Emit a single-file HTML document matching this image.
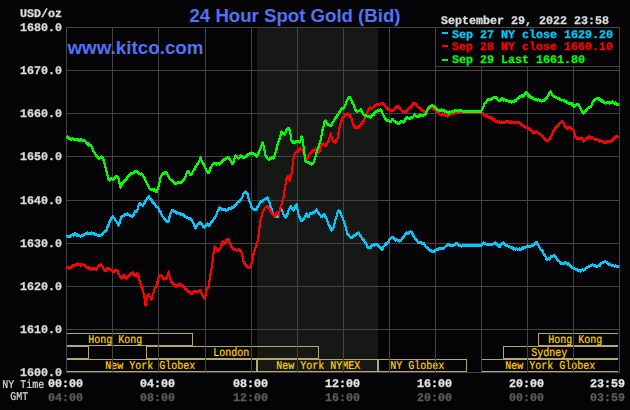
<!DOCTYPE html>
<html><head><meta charset="utf-8"><title>24 Hour Spot Gold (Bid)</title>
<style>
html,body{margin:0;padding:0;background:#040406;}
body{width:630px;height:410px;overflow:hidden;}
svg{display:block;}
.mb{font-family:"Liberation Mono",monospace;font-weight:bold;font-size:11.67px;}
.ms{font-family:"Liberation Mono",monospace;font-weight:normal;font-size:10px;}
.sb{font-family:"Liberation Sans",sans-serif;font-weight:bold;}
</style></head><body>
<svg width="630" height="410" viewBox="0 0 630 410">
<rect x="0" y="0" width="630" height="410" fill="#040406"/>
<rect x="257" y="27" width="121" height="345" fill="#161816"/>
<g fill="#b3aa6a" shape-rendering="crispEdges">
<rect x="67" y="333" width="126" height="1"/><rect x="67" y="345" width="126" height="1"/><rect x="192" y="333" width="1" height="13"/>
<rect x="67" y="346" width="22" height="1"/><rect x="67" y="358" width="22" height="1"/><rect x="88" y="346" width="1" height="13"/>
<rect x="146" y="346" width="173" height="1"/><rect x="146" y="358" width="173" height="1"/><rect x="146" y="346" width="1" height="13"/><rect x="318" y="346" width="1" height="13"/>
<rect x="67" y="359" width="190" height="1"/><rect x="67" y="371" width="190" height="1"/><rect x="256" y="359" width="1" height="13"/>
<rect x="257" y="359" width="121" height="1"/><rect x="257" y="371" width="121" height="1"/><rect x="257" y="359" width="1" height="13"/><rect x="377" y="359" width="1" height="13"/>
<rect x="378" y="359" width="89" height="1"/><rect x="378" y="371" width="89" height="1"/><rect x="378" y="359" width="1" height="13"/><rect x="466" y="359" width="1" height="13"/>
<rect x="481" y="359" width="137" height="1"/><rect x="481" y="371" width="137" height="1"/><rect x="481" y="359" width="1" height="13"/>
<rect x="503" y="346" width="115" height="1"/><rect x="503" y="358" width="115" height="1"/><rect x="503" y="346" width="1" height="13"/>
<rect x="538" y="333" width="80" height="1"/><rect x="538" y="345" width="80" height="1"/><rect x="538" y="333" width="1" height="13"/>
</g>
<g opacity="0.999"><text class="ms" transform="translate(88.25,342.9) scale(1,1.1841) skewX(0.1)" x="0" y="0" fill="#ffd200" stroke="#ffd200" stroke-width="0.2" textLength="54" lengthAdjust="spacingAndGlyphs" xml:space="preserve">Hong Kong</text><text class="ms" transform="translate(213.25,355.9) scale(1,1.1841) skewX(0.1)" x="0" y="0" fill="#ffd200" stroke="#ffd200" stroke-width="0.2" textLength="36" lengthAdjust="spacingAndGlyphs" xml:space="preserve">London</text><text class="ms" transform="translate(105.25,368.9) scale(1,1.1841) skewX(0.1)" x="0" y="0" fill="#ffd200" stroke="#ffd200" stroke-width="0.2" textLength="90" lengthAdjust="spacingAndGlyphs" xml:space="preserve">New York Globex</text><text class="ms" transform="translate(276.25,368.9) scale(1,1.1841) skewX(0.1)" x="0" y="0" fill="#ffd200" stroke="#ffd200" stroke-width="0.2" textLength="84" lengthAdjust="spacingAndGlyphs" xml:space="preserve">New York NYMEX</text><text class="ms" transform="translate(390.25,368.9) scale(1,1.1841) skewX(0.1)" x="0" y="0" fill="#ffd200" stroke="#ffd200" stroke-width="0.2" textLength="54" lengthAdjust="spacingAndGlyphs" xml:space="preserve">NY Globex</text><text class="ms" transform="translate(505.25,368.9) scale(1,1.1841) skewX(0.1)" x="0" y="0" fill="#ffd200" stroke="#ffd200" stroke-width="0.2" textLength="90" lengthAdjust="spacingAndGlyphs" xml:space="preserve">New York Globex</text><text class="ms" transform="translate(531.25,355.9) scale(1,1.1841) skewX(0.1)" x="0" y="0" fill="#ffd200" stroke="#ffd200" stroke-width="0.2" textLength="36" lengthAdjust="spacingAndGlyphs" xml:space="preserve">Sydney</text><text class="ms" transform="translate(548.25,342.9) scale(1,1.1841) skewX(0.1)" x="0" y="0" fill="#ffd200" stroke="#ffd200" stroke-width="0.2" textLength="54" lengthAdjust="spacingAndGlyphs" xml:space="preserve">Hong Kong</text></g>
<g fill="#444444" shape-rendering="crispEdges">
<rect x="66" y="27" width="1" height="346"/>
<rect x="112" y="27" width="1" height="346"/>
<rect x="158" y="27" width="1" height="346"/>
<rect x="205" y="27" width="1" height="346"/>
<rect x="251" y="27" width="1" height="346"/>
<rect x="297" y="27" width="1" height="346"/>
<rect x="343" y="27" width="1" height="346"/>
<rect x="389" y="27" width="1" height="346"/>
<rect x="435" y="27" width="1" height="346"/>
<rect x="481" y="27" width="1" height="346"/>
<rect x="527" y="27" width="1" height="346"/>
<rect x="573" y="27" width="1" height="346"/>
<rect x="619" y="27" width="1" height="346"/>
<rect x="66" y="27" width="554" height="1"/>
<rect x="66" y="70" width="554" height="1"/>
<rect x="66" y="113" width="554" height="1"/>
<rect x="66" y="156" width="554" height="1"/>
<rect x="66" y="200" width="554" height="1"/>
<rect x="66" y="243" width="554" height="1"/>
<rect x="66" y="286" width="554" height="1"/>
<rect x="66" y="329" width="554" height="1"/>
<rect x="66" y="372" width="554" height="1"/>
</g>
<g fill="none" stroke="#00c8ff" stroke-width="2" stroke-linejoin="round" stroke-linecap="butt" shape-rendering="crispEdges"><path d="M66.6 235.6 L67.6 236.5 L68.6 236.7 L69.6 236.9 L70.6 236.4 L71.6 235.2 L72.6 234.6 L73.6 235.2 L74.6 233.9 L75.6 233.8 L76.6 235.2 L77.6 234.8 L78.6 235.8 L79.6 235.7 L80.6 236.4 L81.6 235.5 L82.6 235.5 L83.6 235.2 L84.6 234.2 L85.6 234.0 L86.6 233.4 L87.6 232.6 L88.6 233.9 L89.6 234.0 L90.6 233.5 L91.6 232.8 L92.6 233.6 L93.6 233.2 L94.6 234.1 L95.6 234.7 L96.6 234.9 L97.6 235.5 L98.6 235.0 L99.6 235.9 L100.6 235.0 L101.6 234.8 L102.6 233.9 L103.6 232.1 L104.6 231.6 L105.6 231.2 L106.6 229.9 L107.6 226.8 L108.6 224.7 L109.6 221.7 L110.6 219.9 L111.6 217.8 L112.6 216.4 L113.6 217.7 L114.6 218.7 L115.6 220.5 L116.6 221.7 L117.6 223.7 L118.6 225.5 L119.6 222.7 L120.6 219.2 L121.6 216.9 L122.6 216.2 L123.6 215.5 L124.6 215.0 L125.6 214.2 L126.6 214.4 L127.6 213.8 L128.6 214.8 L129.6 215.1 L130.6 215.7 L131.6 216.4 L132.6 216.0 L133.6 214.7 L134.6 211.9 L135.6 211.4 L136.6 211.6 L137.6 209.1 L138.6 205.3 L139.6 203.7 L140.6 204.0 L141.6 204.6 L142.6 205.7 L143.6 204.1 L144.6 203.4 L145.6 200.6 L146.6 199.5 L147.6 198.0 L148.6 196.3 L149.6 198.5 L150.6 199.0 L151.6 200.3 L152.6 202.5 L153.6 202.9 L154.6 204.2 L155.6 205.5 L156.6 206.9 L157.6 207.4 L158.6 208.5 L159.6 211.2 L160.6 212.2 L161.6 214.9 L162.6 216.6 L163.6 217.5 L164.6 219.2 L165.6 220.4 L166.6 221.7 L167.6 221.8 L168.6 221.1 L169.6 216.7 L170.6 213.3 L171.6 211.2 L172.6 210.1 L173.6 211.2 L174.6 211.3 L175.6 211.9 L176.6 213.2 L177.6 212.9 L178.6 213.3 L179.6 213.1 L180.6 214.1 L181.6 214.7 L182.6 214.1 L183.6 215.2 L184.6 216.2 L185.6 216.5 L186.6 217.8 L187.6 217.7 L188.6 218.2 L189.6 218.3 L190.6 219.5 L191.6 220.3 L192.6 221.4 L193.6 223.6 L194.6 226.2 L195.6 228.2 L196.6 225.8 L197.6 224.5 L198.6 223.7 L199.6 222.7 L200.6 222.5 L201.6 224.1 L202.6 225.8 L203.6 226.9 L204.6 227.3 L205.6 225.9 L206.6 225.0 L207.6 223.8 L208.6 225.4 L209.6 225.2 L210.6 223.4 L211.6 222.0 L212.6 221.5 L213.6 219.4 L214.6 218.1 L215.6 216.5 L216.6 214.6 L217.6 211.4 L218.6 209.8 L219.6 207.8 L220.6 208.9 L221.6 208.9 L222.6 209.9 L223.6 209.2 L224.6 209.5 L225.6 210.1 L226.6 210.5 L227.6 209.7 L228.6 209.0 L229.6 208.4 L230.6 208.6 L231.6 207.6 L232.6 207.9 L233.6 207.3 L234.6 205.8 L235.6 204.8 L236.6 204.1 L237.6 202.4 L238.6 201.8 L239.6 200.7 L240.6 200.0 L241.6 198.5 L242.6 196.6 L243.6 193.3 L244.6 192.6 L245.6 191.9 L246.6 193.1 L247.6 194.3 L248.6 198.8 L249.6 201.5 L250.6 203.6 L251.6 207.3 L252.6 208.6 L253.6 209.6 L254.6 209.6 L255.6 209.9 L256.6 208.8 L257.6 206.6 L258.6 205.3 L259.6 203.3 L260.6 202.0 L261.6 201.5 L262.6 200.8 L263.6 200.3 L264.6 199.4 L265.6 198.4 L266.6 198.6 L267.6 197.7 L268.6 200.9 L269.6 202.4 L270.6 206.6 L271.6 209.3 L272.6 212.6 L273.6 215.6 L274.6 216.4 L275.6 216.8 L276.6 216.1 L277.6 216.7 L278.6 214.8 L279.6 211.5 L280.6 209.4 L281.6 209.8 L282.6 211.4 L283.6 214.6 L284.6 216.1 L285.6 217.2 L286.6 215.9 L287.6 213.7 L288.6 210.5 L289.6 208.4 L290.6 206.1 L291.6 207.4 L292.6 209.2 L293.6 210.2 L294.6 207.8 L295.6 205.7 L296.6 204.8 L297.6 210.4 L298.6 214.5 L299.6 217.3 L300.6 219.4 L301.6 221.0 L302.6 219.6 L303.6 218.7 L304.6 217.3 L305.6 215.9 L306.6 213.9 L307.6 215.6 L308.6 217.0 L309.6 214.3 L310.6 213.0 L311.6 213.4 L312.6 213.0 L313.6 212.1 L314.6 212.4 L315.6 211.1 L316.6 209.4 L317.6 211.6 L318.6 213.1 L319.6 214.5 L320.6 215.8 L321.6 217.0 L322.6 215.9 L323.6 214.6 L324.6 215.1 L325.6 217.2 L326.6 218.9 L327.6 221.8 L328.6 224.4 L329.6 226.2 L330.6 228.1 L331.6 230.5 L332.6 228.8 L333.6 227.1 L334.6 223.4 L335.6 218.8 L336.6 215.9 L337.6 212.2 L338.6 210.8 L339.6 211.3 L340.6 213.3 L341.6 215.8 L342.6 217.9 L343.6 221.1 L344.6 223.9 L345.6 226.6 L346.6 230.6 L347.6 234.3 L348.6 234.9 L349.6 236.9 L350.6 237.3 L351.6 237.5 L352.6 237.2 L353.6 235.8 L354.6 235.9 L355.6 235.1 L356.6 233.7 L357.6 233.4 L358.6 232.7 L359.6 234.8 L360.6 235.8 L361.6 237.5 L362.6 238.9 L363.6 240.2 L364.6 241.8 L365.6 243.1 L366.6 244.7 L367.6 248.0 L368.6 247.9 L369.6 247.4 L370.6 247.7 L371.6 245.9 L372.6 245.2 L373.6 244.4 L374.6 245.3 L375.6 244.1 L376.6 244.1 L377.6 245.9 L378.6 245.6 L379.6 247.5 L380.6 248.3 L381.6 249.6 L382.6 249.0 L383.6 246.5 L384.6 245.6 L385.6 243.9 L386.6 244.2 L387.6 242.8 L388.6 241.7 L389.6 239.4 L390.6 238.6 L391.6 237.2 L392.6 237.0 L393.6 238.4 L394.6 239.4 L395.6 240.2 L396.6 239.9 L397.6 240.1 L398.6 240.4 L399.6 241.1 L400.6 240.8 L401.6 239.3 L402.6 238.2 L403.6 236.8 L404.6 235.1 L405.6 233.5 L406.6 232.8 L407.6 233.1 L408.6 233.3 L409.6 232.0 L410.6 231.9 L411.6 232.3 L412.6 234.3 L413.6 236.2 L414.6 237.9 L415.6 239.1 L416.6 240.3 L417.6 241.7 L418.6 242.8 L419.6 242.0 L420.6 242.3 L421.6 243.2 L422.6 243.1 L423.6 243.3 L424.6 244.8 L425.6 246.7 L426.6 247.2 L427.6 248.3 L428.6 249.2 L429.6 250.4 L430.6 250.6 L431.6 251.0 L432.6 251.6 L433.6 251.6 L434.6 250.3 L435.6 250.4 L436.6 249.4 L437.6 249.5 L438.6 248.9 L439.6 248.4 L440.6 248.3 L441.6 248.0 L442.6 248.6 L443.6 248.4 L444.6 247.4 L445.6 246.3 L446.6 245.3 L447.6 245.1 L448.6 244.1 L449.6 245.6 L450.6 245.2 L451.6 245.4 L452.6 245.1 L453.6 245.5 L454.6 244.6 L455.6 243.4 L456.6 243.4 L457.6 244.4 L458.6 245.2 L459.6 245.0 L460.6 245.6 L461.6 246.2 L462.6 245.6 L463.6 245.6 L464.6 245.6 L465.6 245.6 L466.6 245.6 L467.6 245.6 L468.6 245.6 L469.6 245.6 L470.6 245.6 L471.6 245.6 L472.6 245.6 L473.6 245.6 L474.6 245.6 L475.6 245.6 L476.6 245.6 L477.6 245.6 L478.6 245.6 L479.6 245.6 L480.6 245.6 L481.6 245.0 L482.6 243.6 L483.6 242.6 L484.6 243.6 L485.6 243.8 L486.6 244.5 L487.6 244.6 L488.6 244.0 L489.6 244.2 L490.6 244.6 L491.6 244.2 L492.6 244.3 L493.6 243.9 L494.6 243.4 L495.6 242.9 L496.6 244.7 L497.6 244.9 L498.6 246.1 L499.6 247.0 L500.6 244.8 L501.6 243.4 L502.6 244.0 L503.6 242.7 L504.6 243.7 L505.6 244.9 L506.6 245.9 L507.6 245.5 L508.6 246.4 L509.6 247.0 L510.6 247.4 L511.6 247.4 L512.6 248.3 L513.6 249.2 L514.6 248.7 L515.6 249.3 L516.6 248.9 L517.6 249.1 L518.6 249.6 L519.6 248.9 L520.6 249.6 L521.6 249.2 L522.6 247.5 L523.6 248.2 L524.6 247.0 L525.6 247.2 L526.6 246.9 L527.6 245.9 L528.6 246.2 L529.6 246.2 L530.6 246.4 L531.6 245.7 L532.6 245.8 L533.6 245.0 L534.6 243.6 L535.6 242.5 L536.6 242.2 L537.6 244.1 L538.6 245.5 L539.6 247.8 L540.6 249.5 L541.6 250.5 L542.6 251.1 L543.6 253.4 L544.6 255.4 L545.6 256.6 L546.6 259.3 L547.6 259.5 L548.6 258.6 L549.6 259.6 L550.6 257.2 L551.6 256.3 L552.6 256.2 L553.6 255.8 L554.6 255.6 L555.6 257.0 L556.6 259.0 L557.6 260.2 L558.6 260.8 L559.6 261.5 L560.6 263.1 L561.6 263.8 L562.6 263.9 L563.6 263.6 L564.6 262.9 L565.6 262.9 L566.6 263.2 L567.6 264.1 L568.6 263.6 L569.6 265.2 L570.6 265.8 L571.6 267.5 L572.6 267.7 L573.6 268.4 L574.6 268.9 L575.6 269.3 L576.6 269.7 L577.6 269.6 L578.6 270.9 L579.6 270.5 L580.6 271.2 L581.6 270.3 L582.6 269.7 L583.6 270.1 L584.6 269.6 L585.6 268.3 L586.6 267.6 L587.6 267.1 L588.6 266.7 L589.6 266.2 L590.6 265.8 L591.6 265.3 L592.6 264.7 L593.6 265.4 L594.6 265.4 L595.6 266.2 L596.6 266.4 L597.6 266.1 L598.6 265.8 L599.6 265.7 L600.6 263.7 L601.6 263.5 L602.6 262.5 L603.6 262.4 L604.6 261.3 L605.6 261.8 L606.6 262.5 L607.6 263.2 L608.6 264.3 L609.6 264.6 L610.6 264.5 L611.6 265.5 L612.6 265.3 L613.6 265.7 L614.6 266.3 L615.6 265.6 L616.6 266.8 L617.6 266.7 L618.6 266.6" transform="translate(0,-0.45)"/><path d="M66.6 235.6 L67.6 236.5 L68.6 236.7 L69.6 236.9 L70.6 236.4 L71.6 235.2 L72.6 234.6 L73.6 235.2 L74.6 233.9 L75.6 233.8 L76.6 235.2 L77.6 234.8 L78.6 235.8 L79.6 235.7 L80.6 236.4 L81.6 235.5 L82.6 235.5 L83.6 235.2 L84.6 234.2 L85.6 234.0 L86.6 233.4 L87.6 232.6 L88.6 233.9 L89.6 234.0 L90.6 233.5 L91.6 232.8 L92.6 233.6 L93.6 233.2 L94.6 234.1 L95.6 234.7 L96.6 234.9 L97.6 235.5 L98.6 235.0 L99.6 235.9 L100.6 235.0 L101.6 234.8 L102.6 233.9 L103.6 232.1 L104.6 231.6 L105.6 231.2 L106.6 229.9 L107.6 226.8 L108.6 224.7 L109.6 221.7 L110.6 219.9 L111.6 217.8 L112.6 216.4 L113.6 217.7 L114.6 218.7 L115.6 220.5 L116.6 221.7 L117.6 223.7 L118.6 225.5 L119.6 222.7 L120.6 219.2 L121.6 216.9 L122.6 216.2 L123.6 215.5 L124.6 215.0 L125.6 214.2 L126.6 214.4 L127.6 213.8 L128.6 214.8 L129.6 215.1 L130.6 215.7 L131.6 216.4 L132.6 216.0 L133.6 214.7 L134.6 211.9 L135.6 211.4 L136.6 211.6 L137.6 209.1 L138.6 205.3 L139.6 203.7 L140.6 204.0 L141.6 204.6 L142.6 205.7 L143.6 204.1 L144.6 203.4 L145.6 200.6 L146.6 199.5 L147.6 198.0 L148.6 196.3 L149.6 198.5 L150.6 199.0 L151.6 200.3 L152.6 202.5 L153.6 202.9 L154.6 204.2 L155.6 205.5 L156.6 206.9 L157.6 207.4 L158.6 208.5 L159.6 211.2 L160.6 212.2 L161.6 214.9 L162.6 216.6 L163.6 217.5 L164.6 219.2 L165.6 220.4 L166.6 221.7 L167.6 221.8 L168.6 221.1 L169.6 216.7 L170.6 213.3 L171.6 211.2 L172.6 210.1 L173.6 211.2 L174.6 211.3 L175.6 211.9 L176.6 213.2 L177.6 212.9 L178.6 213.3 L179.6 213.1 L180.6 214.1 L181.6 214.7 L182.6 214.1 L183.6 215.2 L184.6 216.2 L185.6 216.5 L186.6 217.8 L187.6 217.7 L188.6 218.2 L189.6 218.3 L190.6 219.5 L191.6 220.3 L192.6 221.4 L193.6 223.6 L194.6 226.2 L195.6 228.2 L196.6 225.8 L197.6 224.5 L198.6 223.7 L199.6 222.7 L200.6 222.5 L201.6 224.1 L202.6 225.8 L203.6 226.9 L204.6 227.3 L205.6 225.9 L206.6 225.0 L207.6 223.8 L208.6 225.4 L209.6 225.2 L210.6 223.4 L211.6 222.0 L212.6 221.5 L213.6 219.4 L214.6 218.1 L215.6 216.5 L216.6 214.6 L217.6 211.4 L218.6 209.8 L219.6 207.8 L220.6 208.9 L221.6 208.9 L222.6 209.9 L223.6 209.2 L224.6 209.5 L225.6 210.1 L226.6 210.5 L227.6 209.7 L228.6 209.0 L229.6 208.4 L230.6 208.6 L231.6 207.6 L232.6 207.9 L233.6 207.3 L234.6 205.8 L235.6 204.8 L236.6 204.1 L237.6 202.4 L238.6 201.8 L239.6 200.7 L240.6 200.0 L241.6 198.5 L242.6 196.6 L243.6 193.3 L244.6 192.6 L245.6 191.9 L246.6 193.1 L247.6 194.3 L248.6 198.8 L249.6 201.5 L250.6 203.6 L251.6 207.3 L252.6 208.6 L253.6 209.6 L254.6 209.6 L255.6 209.9 L256.6 208.8 L257.6 206.6 L258.6 205.3 L259.6 203.3 L260.6 202.0 L261.6 201.5 L262.6 200.8 L263.6 200.3 L264.6 199.4 L265.6 198.4 L266.6 198.6 L267.6 197.7 L268.6 200.9 L269.6 202.4 L270.6 206.6 L271.6 209.3 L272.6 212.6 L273.6 215.6 L274.6 216.4 L275.6 216.8 L276.6 216.1 L277.6 216.7 L278.6 214.8 L279.6 211.5 L280.6 209.4 L281.6 209.8 L282.6 211.4 L283.6 214.6 L284.6 216.1 L285.6 217.2 L286.6 215.9 L287.6 213.7 L288.6 210.5 L289.6 208.4 L290.6 206.1 L291.6 207.4 L292.6 209.2 L293.6 210.2 L294.6 207.8 L295.6 205.7 L296.6 204.8 L297.6 210.4 L298.6 214.5 L299.6 217.3 L300.6 219.4 L301.6 221.0 L302.6 219.6 L303.6 218.7 L304.6 217.3 L305.6 215.9 L306.6 213.9 L307.6 215.6 L308.6 217.0 L309.6 214.3 L310.6 213.0 L311.6 213.4 L312.6 213.0 L313.6 212.1 L314.6 212.4 L315.6 211.1 L316.6 209.4 L317.6 211.6 L318.6 213.1 L319.6 214.5 L320.6 215.8 L321.6 217.0 L322.6 215.9 L323.6 214.6 L324.6 215.1 L325.6 217.2 L326.6 218.9 L327.6 221.8 L328.6 224.4 L329.6 226.2 L330.6 228.1 L331.6 230.5 L332.6 228.8 L333.6 227.1 L334.6 223.4 L335.6 218.8 L336.6 215.9 L337.6 212.2 L338.6 210.8 L339.6 211.3 L340.6 213.3 L341.6 215.8 L342.6 217.9 L343.6 221.1 L344.6 223.9 L345.6 226.6 L346.6 230.6 L347.6 234.3 L348.6 234.9 L349.6 236.9 L350.6 237.3 L351.6 237.5 L352.6 237.2 L353.6 235.8 L354.6 235.9 L355.6 235.1 L356.6 233.7 L357.6 233.4 L358.6 232.7 L359.6 234.8 L360.6 235.8 L361.6 237.5 L362.6 238.9 L363.6 240.2 L364.6 241.8 L365.6 243.1 L366.6 244.7 L367.6 248.0 L368.6 247.9 L369.6 247.4 L370.6 247.7 L371.6 245.9 L372.6 245.2 L373.6 244.4 L374.6 245.3 L375.6 244.1 L376.6 244.1 L377.6 245.9 L378.6 245.6 L379.6 247.5 L380.6 248.3 L381.6 249.6 L382.6 249.0 L383.6 246.5 L384.6 245.6 L385.6 243.9 L386.6 244.2 L387.6 242.8 L388.6 241.7 L389.6 239.4 L390.6 238.6 L391.6 237.2 L392.6 237.0 L393.6 238.4 L394.6 239.4 L395.6 240.2 L396.6 239.9 L397.6 240.1 L398.6 240.4 L399.6 241.1 L400.6 240.8 L401.6 239.3 L402.6 238.2 L403.6 236.8 L404.6 235.1 L405.6 233.5 L406.6 232.8 L407.6 233.1 L408.6 233.3 L409.6 232.0 L410.6 231.9 L411.6 232.3 L412.6 234.3 L413.6 236.2 L414.6 237.9 L415.6 239.1 L416.6 240.3 L417.6 241.7 L418.6 242.8 L419.6 242.0 L420.6 242.3 L421.6 243.2 L422.6 243.1 L423.6 243.3 L424.6 244.8 L425.6 246.7 L426.6 247.2 L427.6 248.3 L428.6 249.2 L429.6 250.4 L430.6 250.6 L431.6 251.0 L432.6 251.6 L433.6 251.6 L434.6 250.3 L435.6 250.4 L436.6 249.4 L437.6 249.5 L438.6 248.9 L439.6 248.4 L440.6 248.3 L441.6 248.0 L442.6 248.6 L443.6 248.4 L444.6 247.4 L445.6 246.3 L446.6 245.3 L447.6 245.1 L448.6 244.1 L449.6 245.6 L450.6 245.2 L451.6 245.4 L452.6 245.1 L453.6 245.5 L454.6 244.6 L455.6 243.4 L456.6 243.4 L457.6 244.4 L458.6 245.2 L459.6 245.0 L460.6 245.6 L461.6 246.2 L462.6 245.6 L463.6 245.6 L464.6 245.6 L465.6 245.6 L466.6 245.6 L467.6 245.6 L468.6 245.6 L469.6 245.6 L470.6 245.6 L471.6 245.6 L472.6 245.6 L473.6 245.6 L474.6 245.6 L475.6 245.6 L476.6 245.6 L477.6 245.6 L478.6 245.6 L479.6 245.6 L480.6 245.6 L481.6 245.0 L482.6 243.6 L483.6 242.6 L484.6 243.6 L485.6 243.8 L486.6 244.5 L487.6 244.6 L488.6 244.0 L489.6 244.2 L490.6 244.6 L491.6 244.2 L492.6 244.3 L493.6 243.9 L494.6 243.4 L495.6 242.9 L496.6 244.7 L497.6 244.9 L498.6 246.1 L499.6 247.0 L500.6 244.8 L501.6 243.4 L502.6 244.0 L503.6 242.7 L504.6 243.7 L505.6 244.9 L506.6 245.9 L507.6 245.5 L508.6 246.4 L509.6 247.0 L510.6 247.4 L511.6 247.4 L512.6 248.3 L513.6 249.2 L514.6 248.7 L515.6 249.3 L516.6 248.9 L517.6 249.1 L518.6 249.6 L519.6 248.9 L520.6 249.6 L521.6 249.2 L522.6 247.5 L523.6 248.2 L524.6 247.0 L525.6 247.2 L526.6 246.9 L527.6 245.9 L528.6 246.2 L529.6 246.2 L530.6 246.4 L531.6 245.7 L532.6 245.8 L533.6 245.0 L534.6 243.6 L535.6 242.5 L536.6 242.2 L537.6 244.1 L538.6 245.5 L539.6 247.8 L540.6 249.5 L541.6 250.5 L542.6 251.1 L543.6 253.4 L544.6 255.4 L545.6 256.6 L546.6 259.3 L547.6 259.5 L548.6 258.6 L549.6 259.6 L550.6 257.2 L551.6 256.3 L552.6 256.2 L553.6 255.8 L554.6 255.6 L555.6 257.0 L556.6 259.0 L557.6 260.2 L558.6 260.8 L559.6 261.5 L560.6 263.1 L561.6 263.8 L562.6 263.9 L563.6 263.6 L564.6 262.9 L565.6 262.9 L566.6 263.2 L567.6 264.1 L568.6 263.6 L569.6 265.2 L570.6 265.8 L571.6 267.5 L572.6 267.7 L573.6 268.4 L574.6 268.9 L575.6 269.3 L576.6 269.7 L577.6 269.6 L578.6 270.9 L579.6 270.5 L580.6 271.2 L581.6 270.3 L582.6 269.7 L583.6 270.1 L584.6 269.6 L585.6 268.3 L586.6 267.6 L587.6 267.1 L588.6 266.7 L589.6 266.2 L590.6 265.8 L591.6 265.3 L592.6 264.7 L593.6 265.4 L594.6 265.4 L595.6 266.2 L596.6 266.4 L597.6 266.1 L598.6 265.8 L599.6 265.7 L600.6 263.7 L601.6 263.5 L602.6 262.5 L603.6 262.4 L604.6 261.3 L605.6 261.8 L606.6 262.5 L607.6 263.2 L608.6 264.3 L609.6 264.6 L610.6 264.5 L611.6 265.5 L612.6 265.3 L613.6 265.7 L614.6 266.3 L615.6 265.6 L616.6 266.8 L617.6 266.7 L618.6 266.6" transform="translate(0,0.45)"/></g>
<g fill="none" stroke="#ff0000" stroke-width="2" stroke-linejoin="round" stroke-linecap="butt" shape-rendering="crispEdges"><path d="M66.6 267.2 L67.6 267.5 L68.6 267.8 L69.6 268.1 L70.6 267.6 L71.6 267.3 L72.6 265.6 L73.6 265.6 L74.6 265.7 L75.6 264.7 L76.6 264.6 L77.6 263.8 L78.6 264.6 L79.6 264.5 L80.6 265.1 L81.6 265.3 L82.6 264.6 L83.6 265.0 L84.6 265.2 L85.6 266.7 L86.6 267.3 L87.6 267.2 L88.6 268.7 L89.6 268.3 L90.6 269.6 L91.6 268.9 L92.6 268.4 L93.6 269.3 L94.6 268.6 L95.6 269.3 L96.6 269.5 L97.6 267.3 L98.6 265.3 L99.6 265.7 L100.6 264.5 L101.6 265.9 L102.6 266.6 L103.6 269.0 L104.6 270.1 L105.6 270.6 L106.6 269.7 L107.6 268.0 L108.6 268.3 L109.6 268.9 L110.6 269.7 L111.6 270.6 L112.6 271.6 L113.6 271.6 L114.6 270.3 L115.6 270.8 L116.6 270.8 L117.6 271.2 L118.6 273.7 L119.6 276.0 L120.6 277.9 L121.6 278.2 L122.6 277.2 L123.6 275.0 L124.6 277.1 L125.6 276.5 L126.6 278.3 L127.6 277.5 L128.6 275.3 L129.6 275.5 L130.6 274.0 L131.6 273.5 L132.6 272.8 L133.6 273.8 L134.6 274.8 L135.6 275.8 L136.6 273.9 L137.6 274.0 L138.6 277.2 L139.6 280.5 L140.6 284.0 L141.6 287.3 L142.6 290.0 L143.6 294.0 L144.6 298.5 L145.6 305.7 L146.6 298.8 L147.6 295.8 L148.6 294.3 L149.6 297.0 L150.6 297.4 L151.6 299.4 L152.6 295.5 L153.6 292.1 L154.6 288.8 L155.6 287.5 L156.6 285.2 L157.6 281.6 L158.6 277.4 L159.6 275.7 L160.6 275.9 L161.6 276.4 L162.6 277.8 L163.6 279.1 L164.6 278.8 L165.6 278.2 L166.6 278.2 L167.6 275.2 L168.6 271.9 L169.6 276.6 L170.6 280.1 L171.6 282.1 L172.6 283.2 L173.6 284.2 L174.6 284.7 L175.6 287.0 L176.6 285.2 L177.6 285.4 L178.6 285.4 L179.6 284.2 L180.6 284.8 L181.6 285.5 L182.6 285.8 L183.6 286.8 L184.6 287.3 L185.6 289.3 L186.6 289.9 L187.6 291.5 L188.6 291.4 L189.6 292.2 L190.6 293.4 L191.6 293.7 L192.6 293.5 L193.6 291.8 L194.6 291.0 L195.6 291.2 L196.6 291.3 L197.6 291.5 L198.6 291.5 L199.6 290.6 L200.6 290.9 L201.6 293.9 L202.6 296.0 L203.6 297.2 L204.6 298.7 L205.6 295.3 L206.6 288.8 L207.6 287.5 L208.6 287.7 L209.6 279.5 L210.6 273.1 L211.6 267.7 L212.6 261.4 L213.6 252.7 L214.6 246.8 L215.6 247.5 L216.6 249.9 L217.6 250.9 L218.6 250.4 L219.6 249.2 L220.6 247.6 L221.6 243.3 L222.6 241.9 L223.6 244.1 L224.6 243.3 L225.6 241.7 L226.6 239.3 L227.6 239.0 L228.6 240.3 L229.6 242.7 L230.6 244.7 L231.6 247.4 L232.6 248.2 L233.6 249.4 L234.6 249.3 L235.6 249.9 L236.6 250.3 L237.6 250.3 L238.6 249.5 L239.6 250.0 L240.6 251.0 L241.6 252.5 L242.6 256.7 L243.6 261.6 L244.6 263.2 L245.6 265.2 L246.6 265.6 L247.6 267.5 L248.6 267.9 L249.6 267.1 L250.6 266.5 L251.6 262.8 L252.6 258.7 L253.6 253.5 L254.6 250.1 L255.6 246.9 L256.6 245.0 L257.6 240.9 L258.6 235.3 L259.6 226.4 L260.6 219.8 L261.6 215.9 L262.6 212.6 L263.6 210.5 L264.6 209.0 L265.6 207.4 L266.6 206.3 L267.6 207.5 L268.6 208.1 L269.6 209.0 L270.6 211.3 L271.6 212.8 L272.6 214.6 L273.6 215.8 L274.6 216.5 L275.6 215.1 L276.6 212.6 L277.6 212.5 L278.6 215.0 L279.6 210.9 L280.6 207.5 L281.6 204.4 L282.6 200.9 L283.6 197.0 L284.6 189.7 L285.6 184.1 L286.6 177.7 L287.6 176.8 L288.6 176.2 L289.6 181.0 L290.6 178.5 L291.6 172.6 L292.6 166.3 L293.6 157.4 L294.6 154.5 L295.6 152.3 L296.6 151.9 L297.6 151.6 L298.6 150.4 L299.6 148.7 L300.6 148.7 L301.6 149.6 L302.6 150.4 L303.6 152.6 L304.6 156.7 L305.6 158.1 L306.6 158.6 L307.6 157.8 L308.6 155.8 L309.6 153.9 L310.6 153.6 L311.6 151.6 L312.6 150.9 L313.6 150.5 L314.6 149.9 L315.6 148.7 L316.6 150.0 L317.6 151.7 L318.6 152.3 L319.6 150.8 L320.6 147.0 L321.6 144.8 L322.6 144.3 L323.6 143.7 L324.6 146.0 L325.6 145.8 L326.6 144.0 L327.6 142.2 L328.6 140.8 L329.6 137.1 L330.6 133.9 L331.6 136.7 L332.6 140.7 L333.6 141.4 L334.6 142.5 L335.6 142.1 L336.6 139.5 L337.6 138.2 L338.6 132.5 L339.6 126.9 L340.6 123.6 L341.6 120.7 L342.6 117.4 L343.6 116.7 L344.6 114.9 L345.6 115.1 L346.6 114.7 L347.6 113.7 L348.6 114.3 L349.6 115.1 L350.6 117.3 L351.6 118.8 L352.6 122.8 L353.6 125.2 L354.6 127.4 L355.6 128.0 L356.6 128.0 L357.6 126.9 L358.6 127.3 L359.6 125.8 L360.6 125.4 L361.6 123.8 L362.6 122.0 L363.6 120.7 L364.6 118.4 L365.6 115.5 L366.6 113.4 L367.6 111.3 L368.6 109.2 L369.6 108.2 L370.6 107.9 L371.6 108.6 L372.6 108.5 L373.6 107.4 L374.6 105.5 L375.6 105.4 L376.6 104.5 L377.6 104.7 L378.6 104.9 L379.6 104.3 L380.6 103.3 L381.6 103.2 L382.6 103.3 L383.6 104.2 L384.6 105.8 L385.6 106.4 L386.6 108.1 L387.6 109.7 L388.6 108.9 L389.6 110.3 L390.6 110.4 L391.6 110.2 L392.6 110.2 L393.6 110.4 L394.6 109.6 L395.6 107.5 L396.6 107.1 L397.6 106.4 L398.6 106.8 L399.6 107.9 L400.6 109.0 L401.6 110.5 L402.6 111.5 L403.6 111.1 L404.6 111.3 L405.6 111.7 L406.6 111.2 L407.6 110.1 L408.6 108.0 L409.6 107.8 L410.6 107.0 L411.6 105.9 L412.6 104.3 L413.6 103.1 L414.6 104.0 L415.6 103.6 L416.6 105.2 L417.6 106.6 L418.6 107.7 L419.6 108.3 L420.6 109.4 L421.6 110.8 L422.6 110.3 L423.6 111.6 L424.6 111.9 L425.6 112.3 L426.6 112.3 L427.6 110.0 L428.6 108.7 L429.6 107.8 L430.6 107.0 L431.6 107.4 L432.6 108.5 L433.6 109.2 L434.6 109.9 L435.6 109.3 L436.6 110.8 L437.6 112.1 L438.6 113.3 L439.6 113.5 L440.6 114.5 L441.6 114.0 L442.6 113.8 L443.6 114.9 L444.6 114.4 L445.6 115.3 L446.6 115.3 L447.6 116.1 L448.6 115.3 L449.6 114.7 L450.6 113.5 L451.6 113.6 L452.6 112.9 L453.6 113.4 L454.6 113.0 L455.6 113.0 L456.6 113.0 L457.6 113.0 L458.6 113.0 L459.6 113.0 L460.6 113.0 L461.6 113.0 L462.6 113.0 L463.6 113.0 L464.6 113.0 L465.6 113.0 L466.6 113.0 L467.6 113.0 L468.6 113.0 L469.6 113.0 L470.6 113.0 L471.6 113.0 L472.6 113.0 L473.6 113.0 L474.6 113.0 L475.6 113.0 L476.6 113.0 L477.6 113.0 L478.6 113.0 L479.6 113.0 L480.6 113.0 L481.6 113.3 L482.6 113.3 L483.6 114.0 L484.6 114.8 L485.6 115.9 L486.6 115.7 L487.6 116.9 L488.6 117.3 L489.6 116.9 L490.6 118.1 L491.6 117.8 L492.6 118.5 L493.6 119.9 L494.6 119.9 L495.6 121.3 L496.6 121.3 L497.6 121.6 L498.6 122.5 L499.6 121.6 L500.6 122.7 L501.6 121.9 L502.6 122.0 L503.6 123.0 L504.6 122.5 L505.6 121.7 L506.6 121.3 L507.6 122.3 L508.6 121.7 L509.6 122.2 L510.6 121.7 L511.6 123.0 L512.6 122.8 L513.6 122.6 L514.6 122.8 L515.6 123.0 L516.6 122.5 L517.6 122.3 L518.6 122.2 L519.6 123.7 L520.6 124.0 L521.6 124.9 L522.6 125.3 L523.6 126.7 L524.6 126.8 L525.6 127.2 L526.6 127.4 L527.6 128.3 L528.6 128.6 L529.6 129.1 L530.6 129.8 L531.6 130.9 L532.6 131.4 L533.6 132.9 L534.6 132.2 L535.6 132.4 L536.6 131.5 L537.6 132.5 L538.6 133.4 L539.6 133.8 L540.6 134.5 L541.6 135.6 L542.6 136.2 L543.6 137.6 L544.6 138.9 L545.6 139.7 L546.6 140.2 L547.6 140.8 L548.6 139.1 L549.6 138.7 L550.6 137.0 L551.6 135.2 L552.6 133.3 L553.6 130.9 L554.6 129.2 L555.6 127.5 L556.6 127.6 L557.6 125.6 L558.6 125.0 L559.6 123.3 L560.6 122.6 L561.6 121.6 L562.6 121.6 L563.6 122.6 L564.6 125.6 L565.6 127.4 L566.6 128.6 L567.6 128.3 L568.6 127.1 L569.6 127.4 L570.6 127.8 L571.6 128.8 L572.6 129.3 L573.6 130.5 L574.6 134.1 L575.6 137.2 L576.6 137.8 L577.6 138.7 L578.6 138.5 L579.6 138.8 L580.6 138.4 L581.6 138.3 L582.6 139.6 L583.6 141.1 L584.6 140.5 L585.6 139.2 L586.6 138.3 L587.6 138.6 L588.6 136.9 L589.6 136.9 L590.6 138.1 L591.6 137.8 L592.6 137.6 L593.6 138.6 L594.6 139.6 L595.6 139.3 L596.6 139.6 L597.6 139.8 L598.6 140.0 L599.6 141.2 L600.6 140.6 L601.6 141.7 L602.6 141.2 L603.6 142.1 L604.6 142.1 L605.6 142.7 L606.6 141.6 L607.6 141.3 L608.6 141.4 L609.6 141.4 L610.6 141.3 L611.6 140.7 L612.6 140.8 L613.6 138.6 L614.6 137.8 L615.6 136.4 L616.6 136.5 L617.6 136.6 L618.6 137.7" transform="translate(0,-0.45)"/><path d="M66.6 267.2 L67.6 267.5 L68.6 267.8 L69.6 268.1 L70.6 267.6 L71.6 267.3 L72.6 265.6 L73.6 265.6 L74.6 265.7 L75.6 264.7 L76.6 264.6 L77.6 263.8 L78.6 264.6 L79.6 264.5 L80.6 265.1 L81.6 265.3 L82.6 264.6 L83.6 265.0 L84.6 265.2 L85.6 266.7 L86.6 267.3 L87.6 267.2 L88.6 268.7 L89.6 268.3 L90.6 269.6 L91.6 268.9 L92.6 268.4 L93.6 269.3 L94.6 268.6 L95.6 269.3 L96.6 269.5 L97.6 267.3 L98.6 265.3 L99.6 265.7 L100.6 264.5 L101.6 265.9 L102.6 266.6 L103.6 269.0 L104.6 270.1 L105.6 270.6 L106.6 269.7 L107.6 268.0 L108.6 268.3 L109.6 268.9 L110.6 269.7 L111.6 270.6 L112.6 271.6 L113.6 271.6 L114.6 270.3 L115.6 270.8 L116.6 270.8 L117.6 271.2 L118.6 273.7 L119.6 276.0 L120.6 277.9 L121.6 278.2 L122.6 277.2 L123.6 275.0 L124.6 277.1 L125.6 276.5 L126.6 278.3 L127.6 277.5 L128.6 275.3 L129.6 275.5 L130.6 274.0 L131.6 273.5 L132.6 272.8 L133.6 273.8 L134.6 274.8 L135.6 275.8 L136.6 273.9 L137.6 274.0 L138.6 277.2 L139.6 280.5 L140.6 284.0 L141.6 287.3 L142.6 290.0 L143.6 294.0 L144.6 298.5 L145.6 305.7 L146.6 298.8 L147.6 295.8 L148.6 294.3 L149.6 297.0 L150.6 297.4 L151.6 299.4 L152.6 295.5 L153.6 292.1 L154.6 288.8 L155.6 287.5 L156.6 285.2 L157.6 281.6 L158.6 277.4 L159.6 275.7 L160.6 275.9 L161.6 276.4 L162.6 277.8 L163.6 279.1 L164.6 278.8 L165.6 278.2 L166.6 278.2 L167.6 275.2 L168.6 271.9 L169.6 276.6 L170.6 280.1 L171.6 282.1 L172.6 283.2 L173.6 284.2 L174.6 284.7 L175.6 287.0 L176.6 285.2 L177.6 285.4 L178.6 285.4 L179.6 284.2 L180.6 284.8 L181.6 285.5 L182.6 285.8 L183.6 286.8 L184.6 287.3 L185.6 289.3 L186.6 289.9 L187.6 291.5 L188.6 291.4 L189.6 292.2 L190.6 293.4 L191.6 293.7 L192.6 293.5 L193.6 291.8 L194.6 291.0 L195.6 291.2 L196.6 291.3 L197.6 291.5 L198.6 291.5 L199.6 290.6 L200.6 290.9 L201.6 293.9 L202.6 296.0 L203.6 297.2 L204.6 298.7 L205.6 295.3 L206.6 288.8 L207.6 287.5 L208.6 287.7 L209.6 279.5 L210.6 273.1 L211.6 267.7 L212.6 261.4 L213.6 252.7 L214.6 246.8 L215.6 247.5 L216.6 249.9 L217.6 250.9 L218.6 250.4 L219.6 249.2 L220.6 247.6 L221.6 243.3 L222.6 241.9 L223.6 244.1 L224.6 243.3 L225.6 241.7 L226.6 239.3 L227.6 239.0 L228.6 240.3 L229.6 242.7 L230.6 244.7 L231.6 247.4 L232.6 248.2 L233.6 249.4 L234.6 249.3 L235.6 249.9 L236.6 250.3 L237.6 250.3 L238.6 249.5 L239.6 250.0 L240.6 251.0 L241.6 252.5 L242.6 256.7 L243.6 261.6 L244.6 263.2 L245.6 265.2 L246.6 265.6 L247.6 267.5 L248.6 267.9 L249.6 267.1 L250.6 266.5 L251.6 262.8 L252.6 258.7 L253.6 253.5 L254.6 250.1 L255.6 246.9 L256.6 245.0 L257.6 240.9 L258.6 235.3 L259.6 226.4 L260.6 219.8 L261.6 215.9 L262.6 212.6 L263.6 210.5 L264.6 209.0 L265.6 207.4 L266.6 206.3 L267.6 207.5 L268.6 208.1 L269.6 209.0 L270.6 211.3 L271.6 212.8 L272.6 214.6 L273.6 215.8 L274.6 216.5 L275.6 215.1 L276.6 212.6 L277.6 212.5 L278.6 215.0 L279.6 210.9 L280.6 207.5 L281.6 204.4 L282.6 200.9 L283.6 197.0 L284.6 189.7 L285.6 184.1 L286.6 177.7 L287.6 176.8 L288.6 176.2 L289.6 181.0 L290.6 178.5 L291.6 172.6 L292.6 166.3 L293.6 157.4 L294.6 154.5 L295.6 152.3 L296.6 151.9 L297.6 151.6 L298.6 150.4 L299.6 148.7 L300.6 148.7 L301.6 149.6 L302.6 150.4 L303.6 152.6 L304.6 156.7 L305.6 158.1 L306.6 158.6 L307.6 157.8 L308.6 155.8 L309.6 153.9 L310.6 153.6 L311.6 151.6 L312.6 150.9 L313.6 150.5 L314.6 149.9 L315.6 148.7 L316.6 150.0 L317.6 151.7 L318.6 152.3 L319.6 150.8 L320.6 147.0 L321.6 144.8 L322.6 144.3 L323.6 143.7 L324.6 146.0 L325.6 145.8 L326.6 144.0 L327.6 142.2 L328.6 140.8 L329.6 137.1 L330.6 133.9 L331.6 136.7 L332.6 140.7 L333.6 141.4 L334.6 142.5 L335.6 142.1 L336.6 139.5 L337.6 138.2 L338.6 132.5 L339.6 126.9 L340.6 123.6 L341.6 120.7 L342.6 117.4 L343.6 116.7 L344.6 114.9 L345.6 115.1 L346.6 114.7 L347.6 113.7 L348.6 114.3 L349.6 115.1 L350.6 117.3 L351.6 118.8 L352.6 122.8 L353.6 125.2 L354.6 127.4 L355.6 128.0 L356.6 128.0 L357.6 126.9 L358.6 127.3 L359.6 125.8 L360.6 125.4 L361.6 123.8 L362.6 122.0 L363.6 120.7 L364.6 118.4 L365.6 115.5 L366.6 113.4 L367.6 111.3 L368.6 109.2 L369.6 108.2 L370.6 107.9 L371.6 108.6 L372.6 108.5 L373.6 107.4 L374.6 105.5 L375.6 105.4 L376.6 104.5 L377.6 104.7 L378.6 104.9 L379.6 104.3 L380.6 103.3 L381.6 103.2 L382.6 103.3 L383.6 104.2 L384.6 105.8 L385.6 106.4 L386.6 108.1 L387.6 109.7 L388.6 108.9 L389.6 110.3 L390.6 110.4 L391.6 110.2 L392.6 110.2 L393.6 110.4 L394.6 109.6 L395.6 107.5 L396.6 107.1 L397.6 106.4 L398.6 106.8 L399.6 107.9 L400.6 109.0 L401.6 110.5 L402.6 111.5 L403.6 111.1 L404.6 111.3 L405.6 111.7 L406.6 111.2 L407.6 110.1 L408.6 108.0 L409.6 107.8 L410.6 107.0 L411.6 105.9 L412.6 104.3 L413.6 103.1 L414.6 104.0 L415.6 103.6 L416.6 105.2 L417.6 106.6 L418.6 107.7 L419.6 108.3 L420.6 109.4 L421.6 110.8 L422.6 110.3 L423.6 111.6 L424.6 111.9 L425.6 112.3 L426.6 112.3 L427.6 110.0 L428.6 108.7 L429.6 107.8 L430.6 107.0 L431.6 107.4 L432.6 108.5 L433.6 109.2 L434.6 109.9 L435.6 109.3 L436.6 110.8 L437.6 112.1 L438.6 113.3 L439.6 113.5 L440.6 114.5 L441.6 114.0 L442.6 113.8 L443.6 114.9 L444.6 114.4 L445.6 115.3 L446.6 115.3 L447.6 116.1 L448.6 115.3 L449.6 114.7 L450.6 113.5 L451.6 113.6 L452.6 112.9 L453.6 113.4 L454.6 113.0 L455.6 113.0 L456.6 113.0 L457.6 113.0 L458.6 113.0 L459.6 113.0 L460.6 113.0 L461.6 113.0 L462.6 113.0 L463.6 113.0 L464.6 113.0 L465.6 113.0 L466.6 113.0 L467.6 113.0 L468.6 113.0 L469.6 113.0 L470.6 113.0 L471.6 113.0 L472.6 113.0 L473.6 113.0 L474.6 113.0 L475.6 113.0 L476.6 113.0 L477.6 113.0 L478.6 113.0 L479.6 113.0 L480.6 113.0 L481.6 113.3 L482.6 113.3 L483.6 114.0 L484.6 114.8 L485.6 115.9 L486.6 115.7 L487.6 116.9 L488.6 117.3 L489.6 116.9 L490.6 118.1 L491.6 117.8 L492.6 118.5 L493.6 119.9 L494.6 119.9 L495.6 121.3 L496.6 121.3 L497.6 121.6 L498.6 122.5 L499.6 121.6 L500.6 122.7 L501.6 121.9 L502.6 122.0 L503.6 123.0 L504.6 122.5 L505.6 121.7 L506.6 121.3 L507.6 122.3 L508.6 121.7 L509.6 122.2 L510.6 121.7 L511.6 123.0 L512.6 122.8 L513.6 122.6 L514.6 122.8 L515.6 123.0 L516.6 122.5 L517.6 122.3 L518.6 122.2 L519.6 123.7 L520.6 124.0 L521.6 124.9 L522.6 125.3 L523.6 126.7 L524.6 126.8 L525.6 127.2 L526.6 127.4 L527.6 128.3 L528.6 128.6 L529.6 129.1 L530.6 129.8 L531.6 130.9 L532.6 131.4 L533.6 132.9 L534.6 132.2 L535.6 132.4 L536.6 131.5 L537.6 132.5 L538.6 133.4 L539.6 133.8 L540.6 134.5 L541.6 135.6 L542.6 136.2 L543.6 137.6 L544.6 138.9 L545.6 139.7 L546.6 140.2 L547.6 140.8 L548.6 139.1 L549.6 138.7 L550.6 137.0 L551.6 135.2 L552.6 133.3 L553.6 130.9 L554.6 129.2 L555.6 127.5 L556.6 127.6 L557.6 125.6 L558.6 125.0 L559.6 123.3 L560.6 122.6 L561.6 121.6 L562.6 121.6 L563.6 122.6 L564.6 125.6 L565.6 127.4 L566.6 128.6 L567.6 128.3 L568.6 127.1 L569.6 127.4 L570.6 127.8 L571.6 128.8 L572.6 129.3 L573.6 130.5 L574.6 134.1 L575.6 137.2 L576.6 137.8 L577.6 138.7 L578.6 138.5 L579.6 138.8 L580.6 138.4 L581.6 138.3 L582.6 139.6 L583.6 141.1 L584.6 140.5 L585.6 139.2 L586.6 138.3 L587.6 138.6 L588.6 136.9 L589.6 136.9 L590.6 138.1 L591.6 137.8 L592.6 137.6 L593.6 138.6 L594.6 139.6 L595.6 139.3 L596.6 139.6 L597.6 139.8 L598.6 140.0 L599.6 141.2 L600.6 140.6 L601.6 141.7 L602.6 141.2 L603.6 142.1 L604.6 142.1 L605.6 142.7 L606.6 141.6 L607.6 141.3 L608.6 141.4 L609.6 141.4 L610.6 141.3 L611.6 140.7 L612.6 140.8 L613.6 138.6 L614.6 137.8 L615.6 136.4 L616.6 136.5 L617.6 136.6 L618.6 137.7" transform="translate(0,0.45)"/></g>
<g fill="none" stroke="#00ff00" stroke-width="2" stroke-linejoin="round" stroke-linecap="butt" shape-rendering="crispEdges"><path d="M66.6 136.2 L67.6 136.8 L68.6 138.4 L69.6 138.2 L70.6 139.1 L71.6 139.1 L72.6 138.9 L73.6 139.6 L74.6 139.1 L75.6 139.8 L76.6 139.4 L77.6 139.6 L78.6 140.1 L79.6 140.8 L80.6 139.8 L81.6 139.9 L82.6 140.2 L83.6 140.3 L84.6 140.5 L85.6 141.6 L86.6 143.7 L87.6 143.3 L88.6 145.1 L89.6 144.9 L90.6 145.3 L91.6 146.7 L92.6 148.9 L93.6 151.6 L94.6 152.4 L95.6 154.5 L96.6 156.0 L97.6 156.8 L98.6 158.1 L99.6 158.4 L100.6 157.4 L101.6 156.6 L102.6 158.2 L103.6 160.0 L104.6 163.4 L105.6 168.3 L106.6 172.3 L107.6 176.1 L108.6 179.2 L109.6 180.3 L110.6 178.8 L111.6 178.5 L112.6 179.6 L113.6 179.6 L114.6 177.9 L115.6 176.3 L116.6 176.6 L117.6 176.4 L118.6 179.0 L119.6 183.4 L120.6 187.5 L121.6 185.5 L122.6 182.7 L123.6 182.3 L124.6 181.2 L125.6 179.6 L126.6 178.8 L127.6 176.9 L128.6 176.3 L129.6 175.0 L130.6 174.1 L131.6 173.4 L132.6 173.3 L133.6 172.8 L134.6 171.6 L135.6 171.2 L136.6 171.0 L137.6 172.5 L138.6 173.0 L139.6 173.9 L140.6 174.1 L141.6 173.8 L142.6 174.6 L143.6 177.0 L144.6 178.1 L145.6 180.8 L146.6 182.5 L147.6 184.6 L148.6 186.4 L149.6 189.0 L150.6 189.4 L151.6 189.0 L152.6 189.0 L153.6 190.4 L154.6 189.9 L155.6 191.0 L156.6 191.7 L157.6 189.6 L158.6 186.5 L159.6 182.1 L160.6 177.2 L161.6 175.2 L162.6 173.3 L163.6 173.4 L164.6 172.9 L165.6 172.1 L166.6 173.1 L167.6 174.8 L168.6 176.8 L169.6 178.6 L170.6 179.7 L171.6 180.3 L172.6 180.9 L173.6 182.5 L174.6 183.2 L175.6 183.2 L176.6 183.4 L177.6 182.8 L178.6 182.4 L179.6 182.6 L180.6 182.6 L181.6 181.8 L182.6 181.5 L183.6 180.0 L184.6 178.3 L185.6 176.2 L186.6 173.6 L187.6 171.7 L188.6 171.4 L189.6 173.9 L190.6 174.7 L191.6 174.2 L192.6 172.4 L193.6 170.3 L194.6 168.9 L195.6 167.0 L196.6 165.4 L197.6 164.1 L198.6 162.1 L199.6 160.4 L200.6 157.7 L201.6 160.8 L202.6 162.4 L203.6 163.9 L204.6 166.4 L205.6 168.9 L206.6 170.9 L207.6 172.4 L208.6 172.8 L209.6 170.8 L210.6 167.8 L211.6 166.3 L212.6 164.5 L213.6 163.3 L214.6 163.3 L215.6 163.4 L216.6 164.4 L217.6 163.6 L218.6 163.7 L219.6 164.5 L220.6 163.1 L221.6 161.7 L222.6 161.4 L223.6 159.8 L224.6 159.6 L225.6 159.3 L226.6 158.2 L227.6 157.5 L228.6 158.1 L229.6 159.4 L230.6 160.5 L231.6 162.8 L232.6 164.0 L233.6 161.7 L234.6 158.5 L235.6 155.7 L236.6 156.1 L237.6 157.5 L238.6 158.5 L239.6 157.2 L240.6 155.9 L241.6 156.0 L242.6 156.5 L243.6 158.0 L244.6 157.3 L245.6 156.4 L246.6 155.9 L247.6 155.4 L248.6 154.2 L249.6 153.7 L250.6 153.6 L251.6 152.9 L252.6 153.6 L253.6 153.7 L254.6 154.4 L255.6 154.9 L256.6 156.1 L257.6 155.2 L258.6 152.8 L259.6 150.5 L260.6 148.3 L261.6 145.6 L262.6 142.5 L263.6 145.5 L264.6 150.6 L265.6 156.4 L266.6 156.7 L267.6 158.7 L268.6 159.4 L269.6 158.9 L270.6 158.5 L271.6 158.0 L272.6 157.5 L273.6 158.4 L274.6 155.4 L275.6 152.0 L276.6 148.7 L277.6 144.5 L278.6 141.2 L279.6 138.9 L280.6 135.4 L281.6 131.5 L282.6 132.7 L283.6 134.0 L284.6 134.4 L285.6 132.4 L286.6 129.5 L287.6 129.2 L288.6 128.2 L289.6 130.2 L290.6 134.9 L291.6 140.8 L292.6 142.3 L293.6 141.8 L294.6 142.8 L295.6 142.0 L296.6 141.4 L297.6 141.6 L298.6 141.4 L299.6 142.5 L300.6 140.0 L301.6 136.6 L302.6 140.2 L303.6 146.9 L304.6 154.9 L305.6 161.7 L306.6 161.6 L307.6 162.2 L308.6 162.1 L309.6 163.5 L310.6 163.1 L311.6 164.3 L312.6 163.9 L313.6 162.4 L314.6 158.9 L315.6 156.3 L316.6 152.3 L317.6 149.4 L318.6 146.8 L319.6 143.4 L320.6 139.9 L321.6 134.6 L322.6 129.5 L323.6 126.3 L324.6 121.2 L325.6 120.9 L326.6 122.8 L327.6 124.1 L328.6 124.6 L329.6 125.7 L330.6 125.5 L331.6 124.8 L332.6 122.4 L333.6 121.4 L334.6 119.3 L335.6 117.7 L336.6 116.7 L337.6 114.7 L338.6 113.1 L339.6 111.7 L340.6 110.2 L341.6 108.7 L342.6 108.6 L343.6 108.1 L344.6 106.4 L345.6 104.0 L346.6 101.0 L347.6 99.0 L348.6 97.3 L349.6 97.0 L350.6 98.6 L351.6 100.8 L352.6 103.2 L353.6 104.9 L354.6 108.0 L355.6 110.2 L356.6 111.1 L357.6 111.1 L358.6 111.0 L359.6 110.7 L360.6 109.4 L361.6 111.3 L362.6 112.7 L363.6 114.6 L364.6 115.5 L365.6 116.3 L366.6 115.7 L367.6 116.7 L368.6 116.9 L369.6 116.4 L370.6 117.1 L371.6 116.6 L372.6 114.9 L373.6 114.8 L374.6 112.7 L375.6 111.5 L376.6 111.6 L377.6 111.3 L378.6 110.2 L379.6 110.1 L380.6 109.7 L381.6 110.9 L382.6 113.5 L383.6 115.7 L384.6 118.0 L385.6 118.7 L386.6 120.4 L387.6 120.7 L388.6 120.6 L389.6 121.6 L390.6 121.7 L391.6 120.6 L392.6 119.1 L393.6 120.7 L394.6 121.4 L395.6 122.7 L396.6 122.3 L397.6 123.3 L398.6 123.0 L399.6 123.3 L400.6 121.9 L401.6 121.4 L402.6 121.6 L403.6 122.1 L404.6 121.0 L405.6 118.7 L406.6 117.1 L407.6 117.9 L408.6 118.0 L409.6 118.7 L410.6 117.7 L411.6 117.1 L412.6 117.5 L413.6 116.3 L414.6 114.8 L415.6 116.0 L416.6 116.2 L417.6 117.0 L418.6 115.5 L419.6 116.2 L420.6 114.6 L421.6 115.6 L422.6 115.1 L423.6 115.1 L424.6 114.6 L425.6 113.7 L426.6 111.3 L427.6 109.4 L428.6 108.1 L429.6 106.8 L430.6 106.1 L431.6 105.7 L432.6 105.7 L433.6 106.3 L434.6 107.0 L435.6 107.8 L436.6 109.5 L437.6 109.9 L438.6 110.6 L439.6 110.1 L440.6 110.4 L441.6 109.9 L442.6 110.3 L443.6 110.1 L444.6 111.3 L445.6 111.5 L446.6 111.6 L447.6 112.7 L448.6 113.3 L449.6 111.6 L450.6 112.3 L451.6 111.6 L452.6 111.5 L453.6 111.7 L454.6 110.9 L455.6 110.9 L456.6 110.9 L457.6 111.3 L458.6 110.4 L459.6 111.1 L460.6 110.9 L461.6 110.8 L462.6 111.1 L463.6 111.6 L464.6 111.6 L465.6 111.6 L466.6 111.6 L467.6 111.6 L468.6 111.6 L469.6 111.6 L470.6 111.6 L471.6 111.6 L472.6 111.6 L473.6 111.6 L474.6 111.6 L475.6 111.6 L476.6 111.6 L477.6 111.6 L478.6 111.6 L479.6 111.6 L480.6 111.6 L481.6 110.3 L482.6 108.1 L483.6 106.0 L484.6 103.4 L485.6 102.7 L486.6 101.1 L487.6 99.9 L488.6 99.2 L489.6 99.9 L490.6 99.6 L491.6 99.0 L492.6 98.1 L493.6 97.8 L494.6 97.7 L495.6 97.6 L496.6 97.9 L497.6 99.6 L498.6 100.7 L499.6 100.8 L500.6 100.1 L501.6 98.7 L502.6 98.8 L503.6 100.3 L504.6 99.9 L505.6 100.3 L506.6 100.1 L507.6 100.9 L508.6 101.3 L509.6 101.6 L510.6 101.5 L511.6 102.3 L512.6 101.8 L513.6 101.6 L514.6 100.8 L515.6 100.7 L516.6 99.4 L517.6 98.5 L518.6 98.1 L519.6 97.0 L520.6 96.5 L521.6 95.4 L522.6 96.1 L523.6 96.2 L524.6 94.3 L525.6 92.5 L526.6 93.1 L527.6 94.3 L528.6 96.2 L529.6 95.8 L530.6 97.4 L531.6 97.8 L532.6 97.4 L533.6 98.9 L534.6 99.4 L535.6 99.3 L536.6 99.8 L537.6 100.3 L538.6 99.7 L539.6 100.6 L540.6 100.9 L541.6 101.3 L542.6 100.9 L543.6 100.6 L544.6 99.5 L545.6 98.9 L546.6 97.7 L547.6 96.6 L548.6 94.7 L549.6 93.0 L550.6 91.5 L551.6 94.0 L552.6 95.5 L553.6 96.7 L554.6 96.6 L555.6 97.2 L556.6 97.8 L557.6 98.6 L558.6 98.8 L559.6 98.4 L560.6 99.9 L561.6 100.1 L562.6 100.0 L563.6 100.3 L564.6 101.1 L565.6 101.0 L566.6 102.6 L567.6 102.7 L568.6 103.1 L569.6 103.3 L570.6 103.2 L571.6 103.0 L572.6 105.1 L573.6 106.7 L574.6 106.1 L575.6 105.2 L576.6 104.5 L577.6 104.0 L578.6 104.9 L579.6 106.4 L580.6 108.7 L581.6 110.4 L582.6 112.0 L583.6 113.1 L584.6 112.6 L585.6 110.8 L586.6 110.2 L587.6 108.5 L588.6 107.7 L589.6 107.2 L590.6 106.9 L591.6 105.6 L592.6 102.5 L593.6 100.3 L594.6 100.0 L595.6 99.2 L596.6 98.9 L597.6 98.3 L598.6 99.2 L599.6 98.6 L600.6 100.5 L601.6 101.2 L602.6 100.7 L603.6 102.0 L604.6 102.9 L605.6 103.1 L606.6 102.5 L607.6 102.3 L608.6 102.2 L609.6 103.2 L610.6 102.1 L611.6 102.6 L612.6 101.9 L613.6 102.7 L614.6 103.7 L615.6 102.9 L616.6 104.3 L617.6 104.2 L618.6 105.1" transform="translate(0,-0.45)"/><path d="M66.6 136.2 L67.6 136.8 L68.6 138.4 L69.6 138.2 L70.6 139.1 L71.6 139.1 L72.6 138.9 L73.6 139.6 L74.6 139.1 L75.6 139.8 L76.6 139.4 L77.6 139.6 L78.6 140.1 L79.6 140.8 L80.6 139.8 L81.6 139.9 L82.6 140.2 L83.6 140.3 L84.6 140.5 L85.6 141.6 L86.6 143.7 L87.6 143.3 L88.6 145.1 L89.6 144.9 L90.6 145.3 L91.6 146.7 L92.6 148.9 L93.6 151.6 L94.6 152.4 L95.6 154.5 L96.6 156.0 L97.6 156.8 L98.6 158.1 L99.6 158.4 L100.6 157.4 L101.6 156.6 L102.6 158.2 L103.6 160.0 L104.6 163.4 L105.6 168.3 L106.6 172.3 L107.6 176.1 L108.6 179.2 L109.6 180.3 L110.6 178.8 L111.6 178.5 L112.6 179.6 L113.6 179.6 L114.6 177.9 L115.6 176.3 L116.6 176.6 L117.6 176.4 L118.6 179.0 L119.6 183.4 L120.6 187.5 L121.6 185.5 L122.6 182.7 L123.6 182.3 L124.6 181.2 L125.6 179.6 L126.6 178.8 L127.6 176.9 L128.6 176.3 L129.6 175.0 L130.6 174.1 L131.6 173.4 L132.6 173.3 L133.6 172.8 L134.6 171.6 L135.6 171.2 L136.6 171.0 L137.6 172.5 L138.6 173.0 L139.6 173.9 L140.6 174.1 L141.6 173.8 L142.6 174.6 L143.6 177.0 L144.6 178.1 L145.6 180.8 L146.6 182.5 L147.6 184.6 L148.6 186.4 L149.6 189.0 L150.6 189.4 L151.6 189.0 L152.6 189.0 L153.6 190.4 L154.6 189.9 L155.6 191.0 L156.6 191.7 L157.6 189.6 L158.6 186.5 L159.6 182.1 L160.6 177.2 L161.6 175.2 L162.6 173.3 L163.6 173.4 L164.6 172.9 L165.6 172.1 L166.6 173.1 L167.6 174.8 L168.6 176.8 L169.6 178.6 L170.6 179.7 L171.6 180.3 L172.6 180.9 L173.6 182.5 L174.6 183.2 L175.6 183.2 L176.6 183.4 L177.6 182.8 L178.6 182.4 L179.6 182.6 L180.6 182.6 L181.6 181.8 L182.6 181.5 L183.6 180.0 L184.6 178.3 L185.6 176.2 L186.6 173.6 L187.6 171.7 L188.6 171.4 L189.6 173.9 L190.6 174.7 L191.6 174.2 L192.6 172.4 L193.6 170.3 L194.6 168.9 L195.6 167.0 L196.6 165.4 L197.6 164.1 L198.6 162.1 L199.6 160.4 L200.6 157.7 L201.6 160.8 L202.6 162.4 L203.6 163.9 L204.6 166.4 L205.6 168.9 L206.6 170.9 L207.6 172.4 L208.6 172.8 L209.6 170.8 L210.6 167.8 L211.6 166.3 L212.6 164.5 L213.6 163.3 L214.6 163.3 L215.6 163.4 L216.6 164.4 L217.6 163.6 L218.6 163.7 L219.6 164.5 L220.6 163.1 L221.6 161.7 L222.6 161.4 L223.6 159.8 L224.6 159.6 L225.6 159.3 L226.6 158.2 L227.6 157.5 L228.6 158.1 L229.6 159.4 L230.6 160.5 L231.6 162.8 L232.6 164.0 L233.6 161.7 L234.6 158.5 L235.6 155.7 L236.6 156.1 L237.6 157.5 L238.6 158.5 L239.6 157.2 L240.6 155.9 L241.6 156.0 L242.6 156.5 L243.6 158.0 L244.6 157.3 L245.6 156.4 L246.6 155.9 L247.6 155.4 L248.6 154.2 L249.6 153.7 L250.6 153.6 L251.6 152.9 L252.6 153.6 L253.6 153.7 L254.6 154.4 L255.6 154.9 L256.6 156.1 L257.6 155.2 L258.6 152.8 L259.6 150.5 L260.6 148.3 L261.6 145.6 L262.6 142.5 L263.6 145.5 L264.6 150.6 L265.6 156.4 L266.6 156.7 L267.6 158.7 L268.6 159.4 L269.6 158.9 L270.6 158.5 L271.6 158.0 L272.6 157.5 L273.6 158.4 L274.6 155.4 L275.6 152.0 L276.6 148.7 L277.6 144.5 L278.6 141.2 L279.6 138.9 L280.6 135.4 L281.6 131.5 L282.6 132.7 L283.6 134.0 L284.6 134.4 L285.6 132.4 L286.6 129.5 L287.6 129.2 L288.6 128.2 L289.6 130.2 L290.6 134.9 L291.6 140.8 L292.6 142.3 L293.6 141.8 L294.6 142.8 L295.6 142.0 L296.6 141.4 L297.6 141.6 L298.6 141.4 L299.6 142.5 L300.6 140.0 L301.6 136.6 L302.6 140.2 L303.6 146.9 L304.6 154.9 L305.6 161.7 L306.6 161.6 L307.6 162.2 L308.6 162.1 L309.6 163.5 L310.6 163.1 L311.6 164.3 L312.6 163.9 L313.6 162.4 L314.6 158.9 L315.6 156.3 L316.6 152.3 L317.6 149.4 L318.6 146.8 L319.6 143.4 L320.6 139.9 L321.6 134.6 L322.6 129.5 L323.6 126.3 L324.6 121.2 L325.6 120.9 L326.6 122.8 L327.6 124.1 L328.6 124.6 L329.6 125.7 L330.6 125.5 L331.6 124.8 L332.6 122.4 L333.6 121.4 L334.6 119.3 L335.6 117.7 L336.6 116.7 L337.6 114.7 L338.6 113.1 L339.6 111.7 L340.6 110.2 L341.6 108.7 L342.6 108.6 L343.6 108.1 L344.6 106.4 L345.6 104.0 L346.6 101.0 L347.6 99.0 L348.6 97.3 L349.6 97.0 L350.6 98.6 L351.6 100.8 L352.6 103.2 L353.6 104.9 L354.6 108.0 L355.6 110.2 L356.6 111.1 L357.6 111.1 L358.6 111.0 L359.6 110.7 L360.6 109.4 L361.6 111.3 L362.6 112.7 L363.6 114.6 L364.6 115.5 L365.6 116.3 L366.6 115.7 L367.6 116.7 L368.6 116.9 L369.6 116.4 L370.6 117.1 L371.6 116.6 L372.6 114.9 L373.6 114.8 L374.6 112.7 L375.6 111.5 L376.6 111.6 L377.6 111.3 L378.6 110.2 L379.6 110.1 L380.6 109.7 L381.6 110.9 L382.6 113.5 L383.6 115.7 L384.6 118.0 L385.6 118.7 L386.6 120.4 L387.6 120.7 L388.6 120.6 L389.6 121.6 L390.6 121.7 L391.6 120.6 L392.6 119.1 L393.6 120.7 L394.6 121.4 L395.6 122.7 L396.6 122.3 L397.6 123.3 L398.6 123.0 L399.6 123.3 L400.6 121.9 L401.6 121.4 L402.6 121.6 L403.6 122.1 L404.6 121.0 L405.6 118.7 L406.6 117.1 L407.6 117.9 L408.6 118.0 L409.6 118.7 L410.6 117.7 L411.6 117.1 L412.6 117.5 L413.6 116.3 L414.6 114.8 L415.6 116.0 L416.6 116.2 L417.6 117.0 L418.6 115.5 L419.6 116.2 L420.6 114.6 L421.6 115.6 L422.6 115.1 L423.6 115.1 L424.6 114.6 L425.6 113.7 L426.6 111.3 L427.6 109.4 L428.6 108.1 L429.6 106.8 L430.6 106.1 L431.6 105.7 L432.6 105.7 L433.6 106.3 L434.6 107.0 L435.6 107.8 L436.6 109.5 L437.6 109.9 L438.6 110.6 L439.6 110.1 L440.6 110.4 L441.6 109.9 L442.6 110.3 L443.6 110.1 L444.6 111.3 L445.6 111.5 L446.6 111.6 L447.6 112.7 L448.6 113.3 L449.6 111.6 L450.6 112.3 L451.6 111.6 L452.6 111.5 L453.6 111.7 L454.6 110.9 L455.6 110.9 L456.6 110.9 L457.6 111.3 L458.6 110.4 L459.6 111.1 L460.6 110.9 L461.6 110.8 L462.6 111.1 L463.6 111.6 L464.6 111.6 L465.6 111.6 L466.6 111.6 L467.6 111.6 L468.6 111.6 L469.6 111.6 L470.6 111.6 L471.6 111.6 L472.6 111.6 L473.6 111.6 L474.6 111.6 L475.6 111.6 L476.6 111.6 L477.6 111.6 L478.6 111.6 L479.6 111.6 L480.6 111.6 L481.6 110.3 L482.6 108.1 L483.6 106.0 L484.6 103.4 L485.6 102.7 L486.6 101.1 L487.6 99.9 L488.6 99.2 L489.6 99.9 L490.6 99.6 L491.6 99.0 L492.6 98.1 L493.6 97.8 L494.6 97.7 L495.6 97.6 L496.6 97.9 L497.6 99.6 L498.6 100.7 L499.6 100.8 L500.6 100.1 L501.6 98.7 L502.6 98.8 L503.6 100.3 L504.6 99.9 L505.6 100.3 L506.6 100.1 L507.6 100.9 L508.6 101.3 L509.6 101.6 L510.6 101.5 L511.6 102.3 L512.6 101.8 L513.6 101.6 L514.6 100.8 L515.6 100.7 L516.6 99.4 L517.6 98.5 L518.6 98.1 L519.6 97.0 L520.6 96.5 L521.6 95.4 L522.6 96.1 L523.6 96.2 L524.6 94.3 L525.6 92.5 L526.6 93.1 L527.6 94.3 L528.6 96.2 L529.6 95.8 L530.6 97.4 L531.6 97.8 L532.6 97.4 L533.6 98.9 L534.6 99.4 L535.6 99.3 L536.6 99.8 L537.6 100.3 L538.6 99.7 L539.6 100.6 L540.6 100.9 L541.6 101.3 L542.6 100.9 L543.6 100.6 L544.6 99.5 L545.6 98.9 L546.6 97.7 L547.6 96.6 L548.6 94.7 L549.6 93.0 L550.6 91.5 L551.6 94.0 L552.6 95.5 L553.6 96.7 L554.6 96.6 L555.6 97.2 L556.6 97.8 L557.6 98.6 L558.6 98.8 L559.6 98.4 L560.6 99.9 L561.6 100.1 L562.6 100.0 L563.6 100.3 L564.6 101.1 L565.6 101.0 L566.6 102.6 L567.6 102.7 L568.6 103.1 L569.6 103.3 L570.6 103.2 L571.6 103.0 L572.6 105.1 L573.6 106.7 L574.6 106.1 L575.6 105.2 L576.6 104.5 L577.6 104.0 L578.6 104.9 L579.6 106.4 L580.6 108.7 L581.6 110.4 L582.6 112.0 L583.6 113.1 L584.6 112.6 L585.6 110.8 L586.6 110.2 L587.6 108.5 L588.6 107.7 L589.6 107.2 L590.6 106.9 L591.6 105.6 L592.6 102.5 L593.6 100.3 L594.6 100.0 L595.6 99.2 L596.6 98.9 L597.6 98.3 L598.6 99.2 L599.6 98.6 L600.6 100.5 L601.6 101.2 L602.6 100.7 L603.6 102.0 L604.6 102.9 L605.6 103.1 L606.6 102.5 L607.6 102.3 L608.6 102.2 L609.6 103.2 L610.6 102.1 L611.6 102.6 L612.6 101.9 L613.6 102.7 L614.6 103.7 L615.6 102.9 L616.6 104.3 L617.6 104.2 L618.6 105.1" transform="translate(0,0.45)"/></g>
<rect x="435" y="27" width="185" height="40" fill="#040406"/>
<g fill="#444444" shape-rendering="crispEdges">
<rect x="435" y="27" width="185" height="1"/><rect x="435" y="66" width="185" height="1"/><rect x="435" y="27" width="1" height="40"/><rect x="619" y="27" width="1" height="40"/>
</g>
<text class="sb" x="189.5" y="21.6" font-size="18.3px" fill="#5273f7" textLength="211" lengthAdjust="spacingAndGlyphs">24 Hour Spot Gold (Bid)</text>
<text class="sb" x="67.5" y="54.4" font-size="18.3px" fill="#5273f7" textLength="136" lengthAdjust="spacingAndGlyphs">www.kitco.com</text>
<rect x="442" y="32" width="6" height="2" fill="#00c8ff" shape-rendering="crispEdges"/>
<rect x="442" y="45" width="6" height="2" fill="#ff0000" shape-rendering="crispEdges"/>
<rect x="442" y="59" width="6" height="2" fill="#00ff00" shape-rendering="crispEdges"/>
<g opacity="0.999"><text class="mb" transform="translate(20,16.85) scale(1,1.0017) skewX(0.1)" x="0" y="0" fill="#dcdcdc" stroke="#dcdcdc" stroke-width="0.3" textLength="42" lengthAdjust="spacingAndGlyphs" xml:space="preserve">USD/oz</text><text class="mb" transform="translate(20,30.85) scale(1,1.0017) skewX(0.1)" x="0" y="0" fill="#dcdcdc" stroke="#dcdcdc" stroke-width="0.3" textLength="42" lengthAdjust="spacingAndGlyphs" xml:space="preserve">1680.0</text><text class="mb" transform="translate(20,73.85) scale(1,1.0017) skewX(0.1)" x="0" y="0" fill="#dcdcdc" stroke="#dcdcdc" stroke-width="0.3" textLength="42" lengthAdjust="spacingAndGlyphs" xml:space="preserve">1670.0</text><text class="mb" transform="translate(20,116.85) scale(1,1.0017) skewX(0.1)" x="0" y="0" fill="#dcdcdc" stroke="#dcdcdc" stroke-width="0.3" textLength="42" lengthAdjust="spacingAndGlyphs" xml:space="preserve">1660.0</text><text class="mb" transform="translate(20,159.85) scale(1,1.0017) skewX(0.1)" x="0" y="0" fill="#dcdcdc" stroke="#dcdcdc" stroke-width="0.3" textLength="42" lengthAdjust="spacingAndGlyphs" xml:space="preserve">1650.0</text><text class="mb" transform="translate(20,203.85) scale(1,1.0017) skewX(0.1)" x="0" y="0" fill="#dcdcdc" stroke="#dcdcdc" stroke-width="0.3" textLength="42" lengthAdjust="spacingAndGlyphs" xml:space="preserve">1640.0</text><text class="mb" transform="translate(20,246.85) scale(1,1.0017) skewX(0.1)" x="0" y="0" fill="#dcdcdc" stroke="#dcdcdc" stroke-width="0.3" textLength="42" lengthAdjust="spacingAndGlyphs" xml:space="preserve">1630.0</text><text class="mb" transform="translate(20,289.85) scale(1,1.0017) skewX(0.1)" x="0" y="0" fill="#dcdcdc" stroke="#dcdcdc" stroke-width="0.3" textLength="42" lengthAdjust="spacingAndGlyphs" xml:space="preserve">1620.0</text><text class="mb" transform="translate(20,332.85) scale(1,1.0017) skewX(0.1)" x="0" y="0" fill="#dcdcdc" stroke="#dcdcdc" stroke-width="0.3" textLength="42" lengthAdjust="spacingAndGlyphs" xml:space="preserve">1610.0</text><text class="mb" transform="translate(20,375.85) scale(1,1.0017) skewX(0.1)" x="0" y="0" fill="#dcdcdc" stroke="#dcdcdc" stroke-width="0.3" textLength="42" lengthAdjust="spacingAndGlyphs" xml:space="preserve">1600.0</text><text class="mb" transform="translate(441,23.85) scale(1,1.0017) skewX(0.1)" x="0" y="0" fill="#dcdcdc" stroke="#dcdcdc" stroke-width="0.3" textLength="168" lengthAdjust="spacingAndGlyphs" xml:space="preserve">September 29, 2022 23:58</text><text class="mb" transform="translate(452,37.85) scale(1,1.0017) skewX(0.1)" x="0" y="0" fill="#00c8ff" stroke="#00c8ff" stroke-width="0.3" textLength="161" lengthAdjust="spacingAndGlyphs" xml:space="preserve">Sep 27 NY close 1629.20</text><text class="mb" transform="translate(452,49.85) scale(1,1.0017) skewX(0.1)" x="0" y="0" fill="#ff0000" stroke="#ff0000" stroke-width="0.3" textLength="161" lengthAdjust="spacingAndGlyphs" xml:space="preserve">Sep 28 NY close 1660.10</text><text class="mb" transform="translate(452,62.85) scale(1,1.0017) skewX(0.1)" x="0" y="0" fill="#00ff00" stroke="#00ff00" stroke-width="0.3" textLength="133" lengthAdjust="spacingAndGlyphs" xml:space="preserve">Sep 29 Last 1661.80</text><text class="mb" transform="translate(48,386.85) scale(1,1.0017) skewX(0.1)" x="0" y="0" fill="#e6e6e6" stroke="#e6e6e6" stroke-width="0.3" textLength="35" lengthAdjust="spacingAndGlyphs" xml:space="preserve">00:00</text><text class="mb" transform="translate(48,400.85) scale(1,1.0017) skewX(0.1)" x="0" y="0" fill="#5c5c5c" stroke="#5c5c5c" stroke-width="0.3" textLength="35" lengthAdjust="spacingAndGlyphs" xml:space="preserve">04:00</text><text class="mb" transform="translate(140,386.85) scale(1,1.0017) skewX(0.1)" x="0" y="0" fill="#e6e6e6" stroke="#e6e6e6" stroke-width="0.3" textLength="35" lengthAdjust="spacingAndGlyphs" xml:space="preserve">04:00</text><text class="mb" transform="translate(140,400.85) scale(1,1.0017) skewX(0.1)" x="0" y="0" fill="#5c5c5c" stroke="#5c5c5c" stroke-width="0.3" textLength="35" lengthAdjust="spacingAndGlyphs" xml:space="preserve">08:00</text><text class="mb" transform="translate(233,386.85) scale(1,1.0017) skewX(0.1)" x="0" y="0" fill="#e6e6e6" stroke="#e6e6e6" stroke-width="0.3" textLength="35" lengthAdjust="spacingAndGlyphs" xml:space="preserve">08:00</text><text class="mb" transform="translate(233,400.85) scale(1,1.0017) skewX(0.1)" x="0" y="0" fill="#5c5c5c" stroke="#5c5c5c" stroke-width="0.3" textLength="35" lengthAdjust="spacingAndGlyphs" xml:space="preserve">12:00</text><text class="mb" transform="translate(325,386.85) scale(1,1.0017) skewX(0.1)" x="0" y="0" fill="#e6e6e6" stroke="#e6e6e6" stroke-width="0.3" textLength="35" lengthAdjust="spacingAndGlyphs" xml:space="preserve">12:00</text><text class="mb" transform="translate(325,400.85) scale(1,1.0017) skewX(0.1)" x="0" y="0" fill="#5c5c5c" stroke="#5c5c5c" stroke-width="0.3" textLength="35" lengthAdjust="spacingAndGlyphs" xml:space="preserve">16:00</text><text class="mb" transform="translate(417,386.85) scale(1,1.0017) skewX(0.1)" x="0" y="0" fill="#e6e6e6" stroke="#e6e6e6" stroke-width="0.3" textLength="35" lengthAdjust="spacingAndGlyphs" xml:space="preserve">16:00</text><text class="mb" transform="translate(417,400.85) scale(1,1.0017) skewX(0.1)" x="0" y="0" fill="#5c5c5c" stroke="#5c5c5c" stroke-width="0.3" textLength="35" lengthAdjust="spacingAndGlyphs" xml:space="preserve">20:00</text><text class="mb" transform="translate(509,386.85) scale(1,1.0017) skewX(0.1)" x="0" y="0" fill="#e6e6e6" stroke="#e6e6e6" stroke-width="0.3" textLength="35" lengthAdjust="spacingAndGlyphs" xml:space="preserve">20:00</text><text class="mb" transform="translate(509,400.85) scale(1,1.0017) skewX(0.1)" x="0" y="0" fill="#5c5c5c" stroke="#5c5c5c" stroke-width="0.3" textLength="35" lengthAdjust="spacingAndGlyphs" xml:space="preserve">00:00</text><text class="mb" transform="translate(590,386.85) scale(1,1.0017) skewX(0.1)" x="0" y="0" fill="#e6e6e6" stroke="#e6e6e6" stroke-width="0.3" textLength="35" lengthAdjust="spacingAndGlyphs" xml:space="preserve">23:59</text><text class="mb" transform="translate(590,400.85) scale(1,1.0017) skewX(0.1)" x="0" y="0" fill="#5c5c5c" stroke="#5c5c5c" stroke-width="0.3" textLength="35" lengthAdjust="spacingAndGlyphs" xml:space="preserve">03:59</text><text class="ms" transform="translate(2.25,387.9) scale(1,1.1841) skewX(0.1)" x="0" y="0" fill="#dcdcdc" stroke="#dcdcdc" stroke-width="0.2" textLength="42" lengthAdjust="spacingAndGlyphs" xml:space="preserve">NY Time</text><text class="ms" transform="translate(10.25,399.9) scale(1,1.1841) skewX(0.1)" x="0" y="0" fill="#dcdcdc" stroke="#dcdcdc" stroke-width="0.2" textLength="18" lengthAdjust="spacingAndGlyphs" xml:space="preserve">GMT</text></g>
</svg></body></html>
